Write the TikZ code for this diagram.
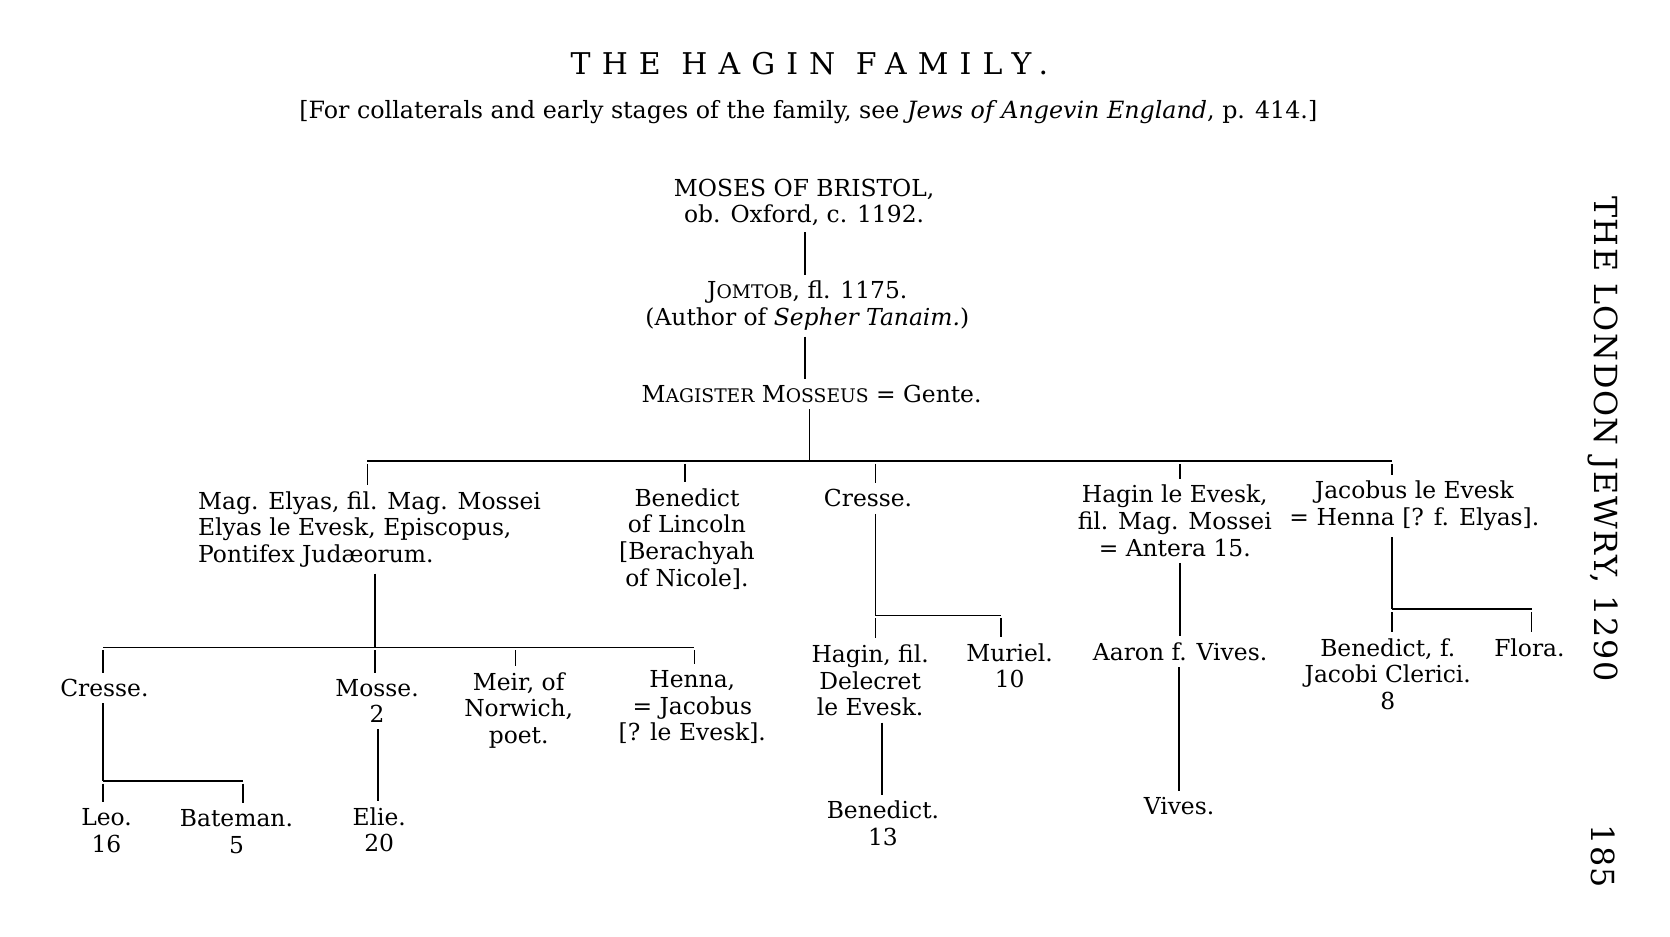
\documentclass[tikz,border=0pt]{standalone}
\usepackage{fontspec}
\setmainfont{DejaVu Serif}
\newfontfamily\titlefont{DejaVu Serif}[LetterSpace=37]
\newfontfamily\sidefont{DejaVu Serif}[LetterSpace=5]
\newcommand{\smc}[1]{{\fontsize{10}{12}\selectfont #1}}

\begin{document}
\begin{tikzpicture}[x=0.02cm, y=-0.02cm, line width=0.9pt,
    person/.style={align=center, inner sep=3pt, font=\fontsize{12.5}{14.2}\selectfont},
    drop/.style={shorten <=1.5pt}]
  \useasboundingbox (0,0) rectangle (1568,879);
  \node (title) at (760,60) {\titlefont\fontsize{16}{18}\selectfont THE HAGIN FAMILY.};
  \node (subtitle) at (759,105) {\fontsize{12.7}{14}\selectfont [For collaterals and early stages of the family, see \textit{Jews of Angevin England}, p. 414.]};
  \node[rotate=-90] (side) at (1505,412) {\sidefont\fontsize{17}{20}\selectfont THE LONDON JEWRY, 1290};
  \node[rotate=-90] (page) at (1505,804) {\sidefont\fontsize{17}{20}\selectfont 185};

  % first generations
  \node[person] (moses) at (755,190) {MOSES OF BRISTOL,\\ ob. Oxford, c. 1192.};
  \node[person] (jomtob) at (758,287) {J\smc{OMTOB}, fl. 1175.\\ (Author of \textit{Sepher Tanaim.})};
  \node[person] (mosseus) at (762,370) {M\smc{AGISTER} M\smc{OSSEUS} = Gente.};
  \draw (756,0 |- moses.south) -- (756,0 |- jomtob.north);
  \draw (756,0 |- jomtob.south) -- (756,0 |- mosseus.north);

  % children of Magister Mosseus
  \node[person, align=left, anchor=west] (elyas) at (180,497) {Mag. Elyas, fil. Mag. Mossei\\ Elyas le Evesk, Episcopus,\\ Pontifex Judæorum.};
  \node[person] (lincoln) at (645,506) {Benedict\\ of Lincoln\\ {[}Berachyah\\ of Nicole].};
  \node[person] (cresse) at (815,468) {Cresse.};
  \node[person] (haginev) at (1103,489) {Hagin le Evesk,\\ fil. Mag. Mossei\\ = Antera 15.};
  \node[person] (jacobus) at (1328,475) {Jacobus le Evesk\\ = Henna [? f. Elyas].};
  \draw (760,0 |- mosseus.south) -- (760,433);
  \draw (345,433) -- (1307,433);
  \draw[drop] (345,433) -- (345,433 |- elyas.north);
  \draw[drop] (643,433) -- (643,433 |- lincoln.north);
  \draw[drop] (822,433) -- (822,433 |- cresse.north);
  \draw[drop] (1108,433) -- (1108,433 |- haginev.north);
  \draw[drop] (1307,433) -- (1307,433 |- jacobus.north);

  % grandchildren
  \node[person] (cresseb) at (98,646) {Cresse.};
  \node[person] (mosse) at (354,658) {Mosse.\\ 2};
  \node[person] (meir) at (487,667) {Meir, of\\ Norwich,\\ poet.};
  \node[person] (henna) at (650,664) {Henna,\\ = Jacobus\\ {[}? le Evesk].};
  \draw (352,608 |- elyas.south) -- (352,608);
  \draw (97,608) -- (652,608);
  \draw[drop] (97,608) -- (97,608 |- cresseb.north);
  \draw[drop] (352,608) -- (352,608 |- mosse.north);
  \draw[drop] (484,608) -- (484,608 |- meir.north);
  \draw[drop] (652,608) -- (652,608 |- henna.north);

  \node[person] (haginfil) at (817,639) {Hagin, fil.\\ Delecret\\ le Evesk.};
  \node[person] (muriel) at (948,625) {Muriel.\\ 10};
  \draw (822,578 |- cresse.south) -- (822,578);
  \draw (822,578) -- (940,578);
  \draw[drop] (822,578) -- (822,578 |- haginfil.north);
  \draw[drop] (940,578) -- (940,578 |- muriel.north);

  \node[person] (aaron) at (1108,612) {Aaron f. Vives.};
  \draw (1108,0 |- haginev.south) -- (1108,0 |- aaron.north);

  \node[person] (benedictf) at (1303,633) {Benedict, f.\\ Jacobi Clerici.\\ 8};
  \node[person] (flora) at (1436,608) {Flora.};
  \draw (1307,572 |- jacobus.south) -- (1307,572);
  \draw (1307,572) -- (1438,572);
  \draw[drop] (1307,572) -- (1307,572 |- benedictf.north);
  \draw[drop] (1438,572) -- (1438,572 |- flora.north);

  % last generation
  \node[person] (leo) at (100,780) {Leo.\\ 16};
  \node[person] (bateman) at (222,781) {Bateman.\\ 5};
  \draw (97,733 |- cresseb.south) -- (97,733);
  \draw (97,733) -- (228,733);
  \draw[drop] (97,733) -- (97,733 |- leo.north);
  \draw[drop] (228,733) -- (228,733 |- bateman.north);

  \node[person] (elie) at (356,779) {Elie.\\ 20};
  \draw (355,0 |- mosse.south) -- (355,0 |- elie.north);

  \node[person] (benedictb) at (829,773) {Benedict.\\ 13};
  \draw (828,0 |- haginfil.south) -- (828,0 |- benedictb.north);

  \node[person] (vives) at (1107,757) {Vives.};
  \draw (1107,0 |- aaron.south) -- (1107,0 |- vives.north);
\end{tikzpicture}
\end{document}
